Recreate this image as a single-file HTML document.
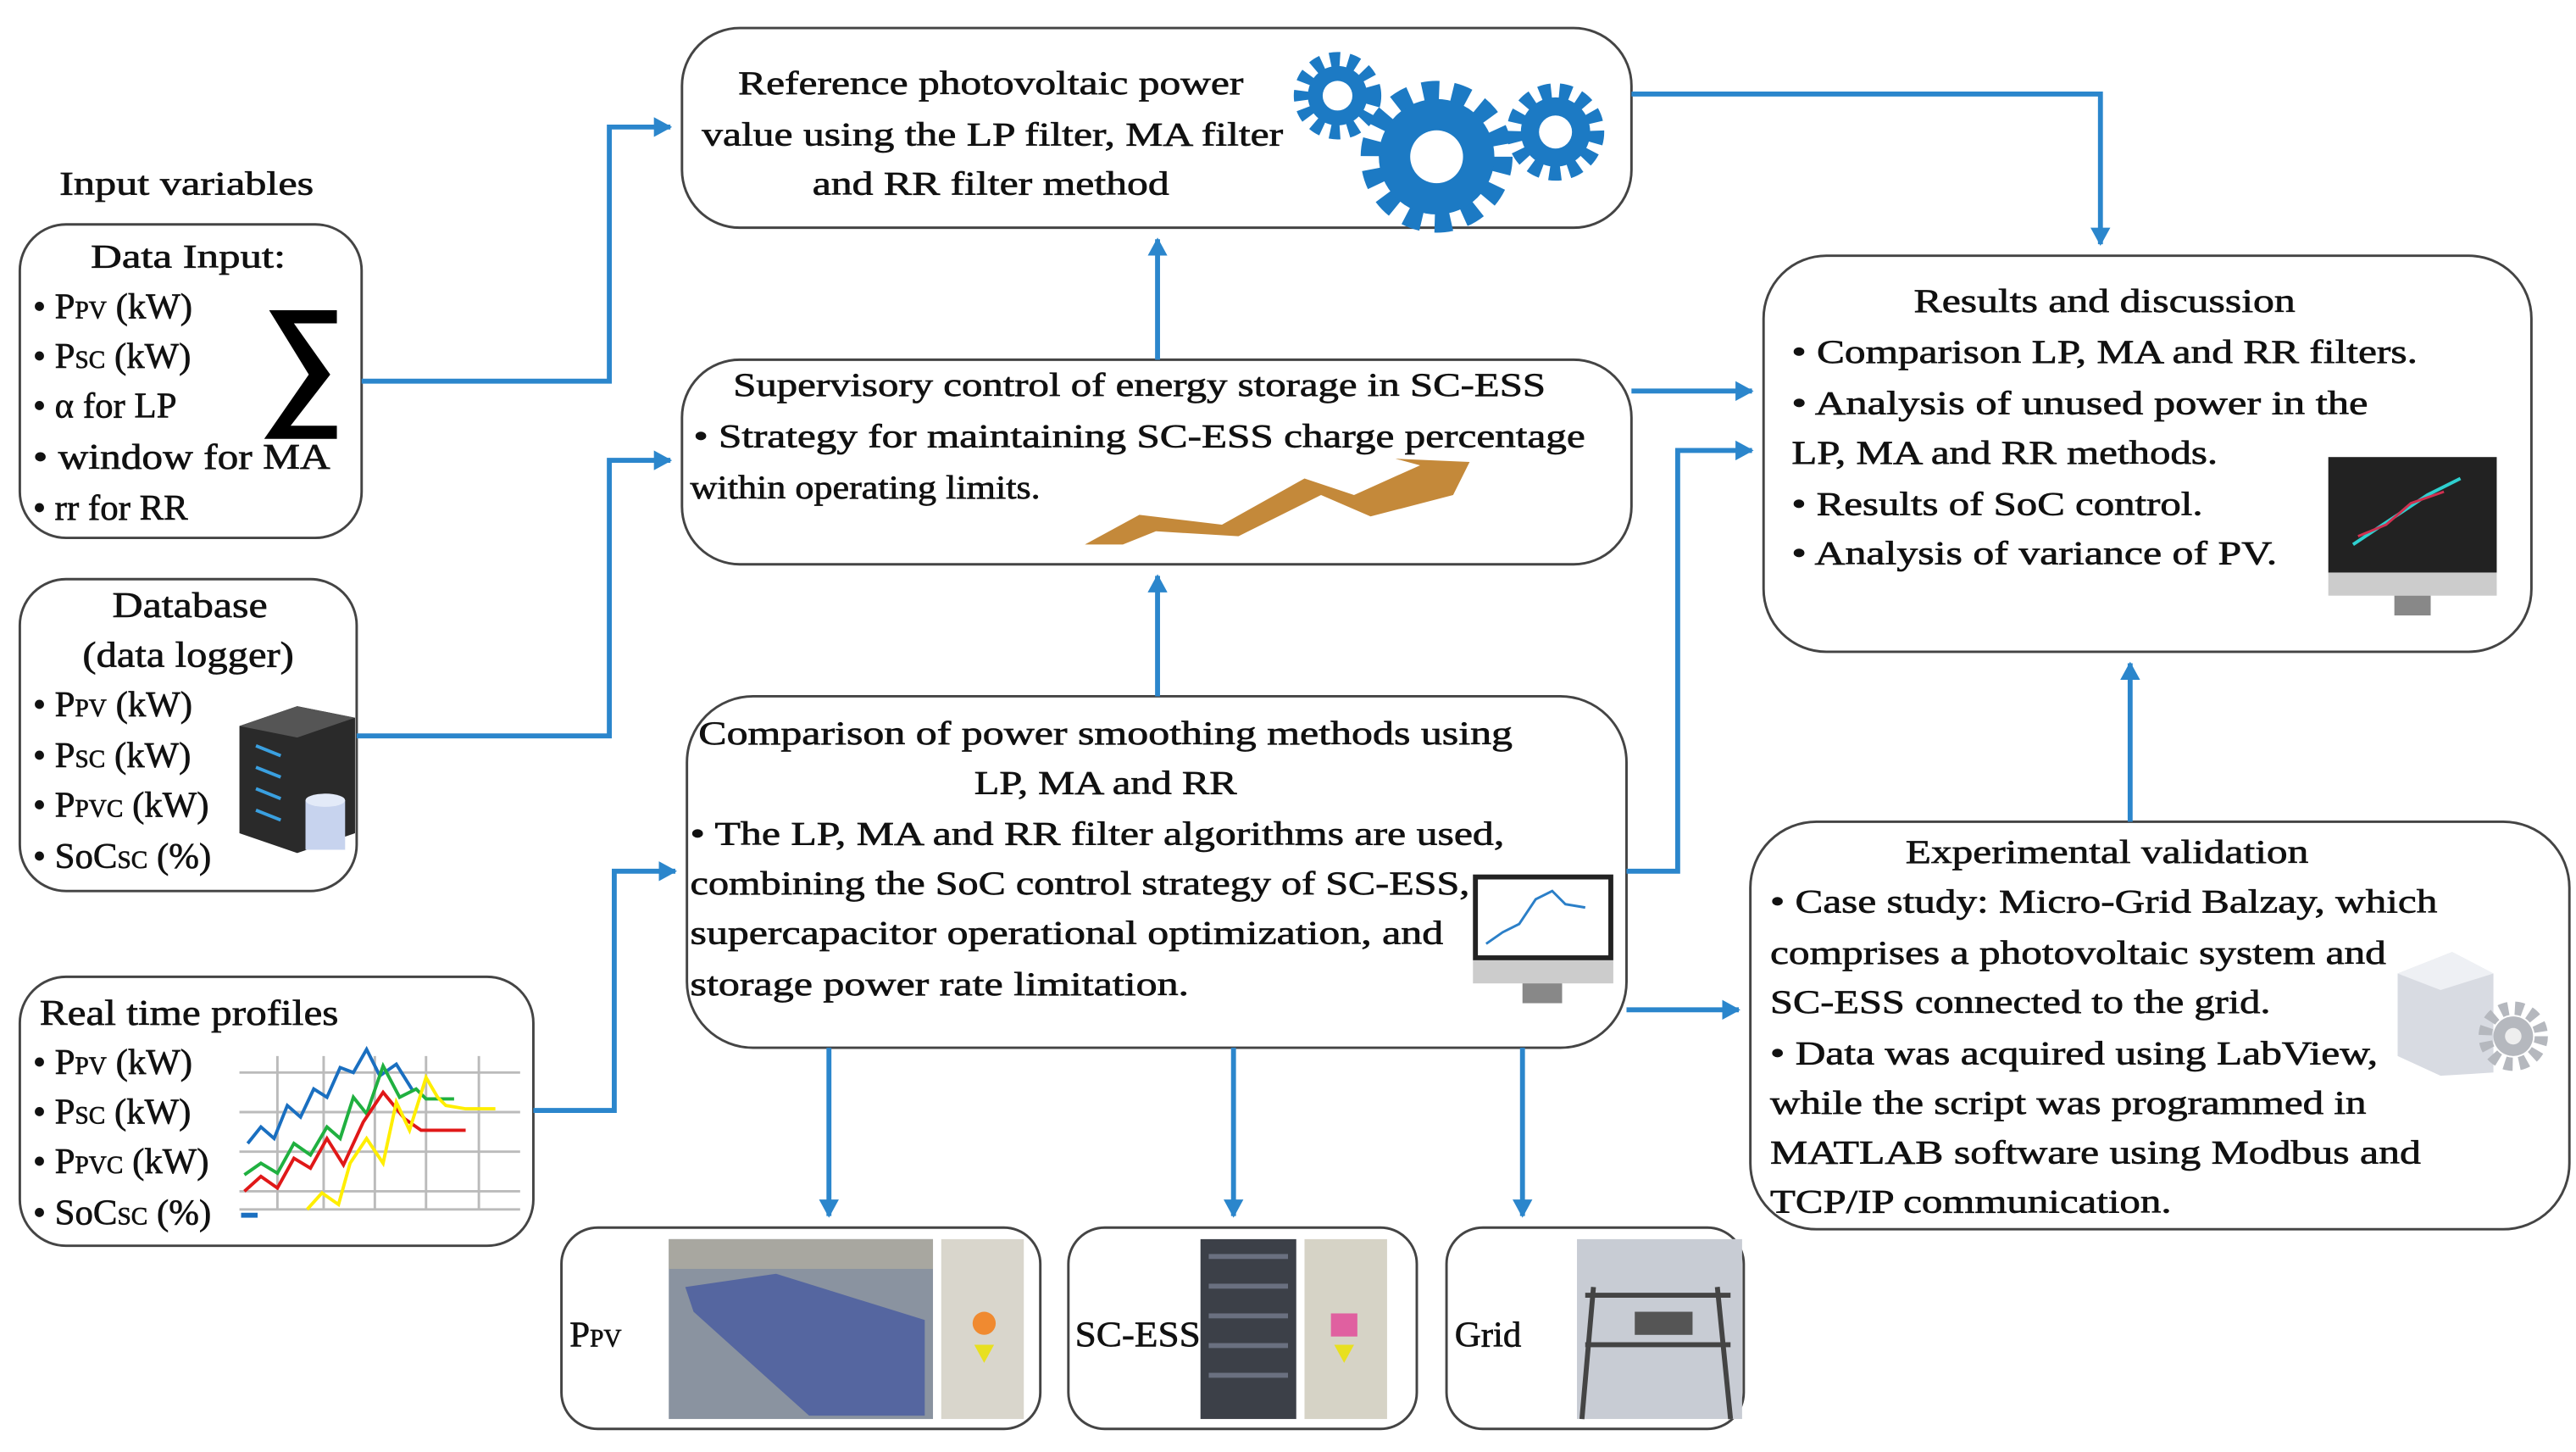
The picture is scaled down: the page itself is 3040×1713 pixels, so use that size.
<!DOCTYPE html>
<html><head><meta charset="utf-8"><style>
html,body{margin:0;padding:0;background:#fff;}
svg{display:block;}
text{font-family:"Liberation Serif",serif;fill:#111;stroke:#111;stroke-width:0.35;}
</style></head><body>
<svg width="3040" height="1713" viewBox="0 0 1560 880" preserveAspectRatio="none" xmlns="http://www.w3.org/2000/svg">
<defs>
<marker id="ar2" markerWidth="12" markerHeight="12" refX="10" refY="6" orient="auto" markerUnits="userSpaceOnUse"><path d="M0,0 L11,6 L0,12 Z" fill="#2b86cc"/></marker>
</defs>
<g fill="#fff" stroke="#444" stroke-width="1.5">
<rect x="413" y="17" width="575" height="121" rx="35"/>
<rect x="413" y="218" width="575" height="124" rx="35"/>
<rect x="416" y="422" width="569" height="213" rx="40"/>
<rect x="1068" y="155" width="465" height="240" rx="38"/>
<rect x="1060" y="498" width="496" height="247" rx="40"/>
<rect x="12" y="136" width="207" height="190" rx="28"/>
<rect x="12" y="351" width="204" height="189" rx="28"/>
<rect x="12" y="592" width="311" height="163" rx="28"/>
<rect x="340" y="744" width="290" height="122" rx="22"/>
<rect x="647" y="744" width="211" height="122" rx="22"/>
<rect x="876" y="744" width="180" height="122" rx="22"/>
</g>
<g fill="none" stroke="#2b86cc" stroke-width="3">
<polyline points="219,231 369,231 369,77 406,77" marker-end="url(#ar2)"/>
<polyline points="216,446 369,446 369,279 406,279" marker-end="url(#ar2)"/>
<polyline points="323,673 372,673 372,528 409,528" marker-end="url(#ar2)"/>
<polyline points="701,218 701,145" marker-end="url(#ar2)"/>
<polyline points="701,422 701,349" marker-end="url(#ar2)"/>
<polyline points="988,57 1272,57 1272,148" marker-end="url(#ar2)"/>
<polyline points="988,237 1061,237" marker-end="url(#ar2)"/>
<polyline points="985,528 1016,528 1016,273 1061,273" marker-end="url(#ar2)"/>
<polyline points="985,612 1053,612" marker-end="url(#ar2)"/>
<polyline points="1290,498 1290,402" marker-end="url(#ar2)"/>
<polyline points="502,635 502,737" marker-end="url(#ar2)"/>
<polyline points="747,635 747,737" marker-end="url(#ar2)"/>
<polyline points="922,635 922,737" marker-end="url(#ar2)"/>
</g>
<g>
<circle cx="810" cy="58" r="22" fill="none" stroke="#1c7ac4" stroke-width="9" stroke-dasharray="6 5"/>
<circle cx="810" cy="58" r="18" fill="#1c7ac4"/><circle cx="810" cy="58" r="9" fill="#fff"/>
<circle cx="870" cy="95" r="40" fill="none" stroke="#1c7ac4" stroke-width="12" stroke-dasharray="10 8"/>
<circle cx="870" cy="95" r="35" fill="#1c7ac4"/><circle cx="870" cy="95" r="16" fill="#fff"/>
<circle cx="942" cy="80" r="25" fill="none" stroke="#1c7ac4" stroke-width="9" stroke-dasharray="7 5"/>
<circle cx="942" cy="80" r="21" fill="#1c7ac4"/><circle cx="942" cy="80" r="10" fill="#fff"/>
</g>
<path d="M163,188 L204,188 L204,196 L178,196 L200,227 L176,258 L204,258 L204,266 L160,266 L187,227 Z" fill="#000"/>
<polygon points="145,440 180,428 215,435 215,505 180,517 145,505" fill="#2a2a2a"/>
<polygon points="145,440 180,428 215,435 180,447" fill="#555"/>
<g stroke="#3aa0e0" stroke-width="2"><line x1="155" y1="452" x2="170" y2="458"/><line x1="155" y1="465" x2="170" y2="471"/><line x1="155" y1="478" x2="170" y2="484"/><line x1="155" y1="491" x2="170" y2="497"/></g>
<rect x="185" y="485" width="24" height="30" fill="#c7d3ee"/><ellipse cx="197" cy="485" rx="12" ry="4" fill="#e3eaf8"/>
<polygon points="657,330 690,312 740,318 790,290 820,300 860,282 845,278 890,280 880,300 830,313 800,300 750,325 700,322 680,330" fill="#c4893a"/>
<rect x="1410" y="277" width="102" height="70" fill="#222"/><rect x="1410" y="347" width="102" height="14" fill="#ccc"/>
<rect x="1450" y="361" width="22" height="12" fill="#888"/>
<polyline points="1425,330 1440,320 1455,310 1470,300 1490,290" fill="none" stroke="#2fd0d0" stroke-width="2"/>
<polyline points="1428,325 1445,318 1460,305 1480,298" fill="none" stroke="#d03050" stroke-width="1.5"/>
<rect x="892" y="530" width="85" height="52" fill="#222"/><rect x="895" y="533" width="79" height="46" fill="#fff"/>
<polyline points="900,572 910,565 920,560 930,545 940,540 948,548 960,550" fill="none" stroke="#2b7fc8" stroke-width="1.5"/>
<rect x="892" y="582" width="85" height="14" fill="#ccc"/><rect x="922" y="596" width="24" height="12" fill="#888"/>
<polygon points="1452,590 1485,577 1510,590 1510,650 1478,652 1452,640" fill="#d8dbe2"/>
<polygon points="1452,590 1485,577 1510,590 1478,600" fill="#eef0f4"/>
<circle cx="1522" cy="628" r="17" fill="none" stroke="#b5b8be" stroke-width="8" stroke-dasharray="5 4"/><circle cx="1522" cy="628" r="12" fill="#b5b8be"/><circle cx="1522" cy="628" r="5" fill="#eee"/>
<g stroke="#bbb" stroke-width="1.5">
<line x1="145" y1="650" x2="315" y2="650"/><line x1="145" y1="674" x2="315" y2="674"/><line x1="145" y1="698" x2="315" y2="698"/><line x1="145" y1="722" x2="315" y2="722"/><line x1="145" y1="733" x2="315" y2="733"/>
<line x1="168" y1="640" x2="168" y2="733"/><line x1="196" y1="640" x2="196" y2="733"/><line x1="227" y1="640" x2="227" y2="733"/><line x1="258" y1="640" x2="258" y2="733"/><line x1="290" y1="640" x2="290" y2="733"/>
</g>
<polyline points="150,693 158,683 166,690 174,670 182,677 190,660 198,665 206,647 214,650 222,636 230,652 240,645 250,661" fill="none" stroke="#1a6fc0" stroke-width="2"/>
<polyline points="148,712 158,705 168,711 178,693 188,700 198,683 206,690 214,665 222,675 232,646 242,665 252,660 258,666 275,666" fill="none" stroke="#20b040" stroke-width="2"/>
<polyline points="148,722 158,713 168,720 178,702 188,708 198,690 208,706 220,680 232,662 245,678 255,685 265,685 282,685" fill="none" stroke="#e01818" stroke-width="2"/>
<polyline points="186,733 195,723 205,730 212,705 222,690 232,705 240,668 248,685 258,653 265,665 270,670 282,672 300,672" fill="none" stroke="#ffee00" stroke-width="2"/>
<rect x="146" y="735" width="10" height="3" fill="#1a6fc0"/>
<rect x="405" y="751" width="160" height="109" fill="#8a93a0"/>
<rect x="405" y="751" width="160" height="18" fill="#a8a7a0"/>
<polygon points="415,780 470,772 560,800 560,858 490,858 420,795" fill="#5566a0"/>
<rect x="570" y="751" width="50" height="109" fill="#d9d6cc"/><circle cx="596" cy="802" r="7" fill="#f08a30"/><polygon points="590,815 602,815 596,826" fill="#e8e020"/>
<rect x="727" y="751" width="58" height="109" fill="#3c4048"/>
<g fill="#6a7080"><rect x="732" y="760" width="48" height="3"/><rect x="732" y="778" width="48" height="3"/><rect x="732" y="796" width="48" height="3"/><rect x="732" y="814" width="48" height="3"/><rect x="732" y="832" width="48" height="3"/></g>
<rect x="790" y="751" width="50" height="109" fill="#d6d3c6"/><rect x="806" y="796" width="16" height="14" fill="#e060a0"/><polygon points="808,815 820,815 814,826" fill="#e8e020"/>
<rect x="955" y="751" width="100" height="109" fill="#c8ccd4"/>
<g stroke="#444" stroke-width="3"><line x1="965" y1="780" x2="958" y2="860"/><line x1="1040" y1="780" x2="1048" y2="860"/><line x1="960" y1="785" x2="1048" y2="785"/><line x1="960" y1="815" x2="1048" y2="815"/></g>
<rect x="990" y="795" width="35" height="14" fill="#555"/>
<g font-size="20">
<text x="113" y="118" text-anchor="middle" textLength="154" lengthAdjust="spacingAndGlyphs">Input variables</text>
<text x="600" y="57" text-anchor="middle" textLength="306" lengthAdjust="spacingAndGlyphs">Reference photovoltaic power</text>
<text x="601" y="88" text-anchor="middle" textLength="352" lengthAdjust="spacingAndGlyphs">value using the LP filter, MA filter</text>
<text x="600" y="118" text-anchor="middle" textLength="216" lengthAdjust="spacingAndGlyphs">and RR filter method</text>
<text x="444" y="240" textLength="492" lengthAdjust="spacingAndGlyphs">Supervisory control of energy storage in SC-ESS</text>
<text x="420" y="271" textLength="540" lengthAdjust="spacingAndGlyphs">• Strategy for maintaining SC-ESS charge percentage</text>
<text x="418" y="302" textLength="212" lengthAdjust="spacingAndGlyphs">within operating limits.</text>
<text x="423" y="451" textLength="493" lengthAdjust="spacingAndGlyphs">Comparison of power smoothing methods using</text>
<text x="590" y="481" textLength="159" lengthAdjust="spacingAndGlyphs">LP, MA and RR</text>
<text x="418" y="512" textLength="493" lengthAdjust="spacingAndGlyphs">• The LP, MA and RR filter algorithms are used,</text>
<text x="418" y="542" textLength="472" lengthAdjust="spacingAndGlyphs">combining the SoC control strategy of SC-ESS,</text>
<text x="418" y="572" textLength="456" lengthAdjust="spacingAndGlyphs">supercapacitor operational optimization, and</text>
<text x="418" y="603" textLength="302" lengthAdjust="spacingAndGlyphs">storage power rate limitation.</text>
<text x="1159" y="189" textLength="231" lengthAdjust="spacingAndGlyphs">Results and discussion</text>
<text x="1085" y="220" textLength="379" lengthAdjust="spacingAndGlyphs">• Comparison LP, MA and RR filters.</text>
<text x="1085" y="251" textLength="349" lengthAdjust="spacingAndGlyphs">• Analysis of unused power in the</text>
<text x="1085" y="281" textLength="258" lengthAdjust="spacingAndGlyphs">LP, MA and RR methods.</text>
<text x="1085" y="312" textLength="249" lengthAdjust="spacingAndGlyphs">• Results of SoC control.</text>
<text x="1085" y="342" textLength="294" lengthAdjust="spacingAndGlyphs">• Analysis of variance of PV.</text>
<text x="1154" y="523" textLength="244" lengthAdjust="spacingAndGlyphs">Experimental validation</text>
<text x="1072" y="553" textLength="404" lengthAdjust="spacingAndGlyphs">• Case study: Micro-Grid Balzay, which</text>
<text x="1072" y="584" textLength="373" lengthAdjust="spacingAndGlyphs">comprises a photovoltaic system and</text>
<text x="1072" y="614" textLength="303" lengthAdjust="spacingAndGlyphs">SC-ESS connected to the grid.</text>
<text x="1072" y="645" textLength="368" lengthAdjust="spacingAndGlyphs">• Data was acquired using LabView,</text>
<text x="1072" y="675" textLength="361" lengthAdjust="spacingAndGlyphs">while the script was programmed in</text>
<text x="1072" y="705" textLength="394" lengthAdjust="spacingAndGlyphs">MATLAB software using Modbus and</text>
<text x="1072" y="735" textLength="243" lengthAdjust="spacingAndGlyphs">TCP/IP communication.</text>
<text x="114" y="162" text-anchor="middle" textLength="118" lengthAdjust="spacingAndGlyphs">Data Input:</text>
</g>
<g font-size="22">
<text x="20" y="193">• P<tspan font-size="15">PV</tspan> (kW)</text>
<text x="20" y="223">• P<tspan font-size="15">SC</tspan> (kW)</text>
<text x="20" y="253">• α for LP</text>
<text x="20" y="284" textLength="180" lengthAdjust="spacingAndGlyphs">• window for MA</text>
<text x="20" y="315">• rr for RR</text>
<text x="115" y="374" text-anchor="middle" textLength="94" lengthAdjust="spacingAndGlyphs">Database</text>
<text x="114" y="404" text-anchor="middle" textLength="128" lengthAdjust="spacingAndGlyphs">(data logger)</text>
<text x="20" y="434">• P<tspan font-size="15">PV</tspan> (kW)</text>
<text x="20" y="465">• P<tspan font-size="15">SC</tspan> (kW)</text>
<text x="20" y="495">• P<tspan font-size="15">PVC</tspan> (kW)</text>
<text x="20" y="526">• SoC<tspan font-size="15">SC</tspan> (%)</text>
<text x="24" y="621" textLength="181" lengthAdjust="spacingAndGlyphs">Real time profiles</text>
<text x="20" y="651">• P<tspan font-size="15">PV</tspan> (kW)</text>
<text x="20" y="681">• P<tspan font-size="15">SC</tspan> (kW)</text>
<text x="20" y="711">• P<tspan font-size="15">PVC</tspan> (kW)</text>
<text x="20" y="742">• SoC<tspan font-size="15">SC</tspan> (%)</text>
<text x="345" y="816">P<tspan font-size="15">PV</tspan></text>
<text x="651" y="816" textLength="76" lengthAdjust="spacingAndGlyphs">SC-ESS</text>
<text x="881" y="816">Grid</text>
</g>
</svg>
</body></html>
